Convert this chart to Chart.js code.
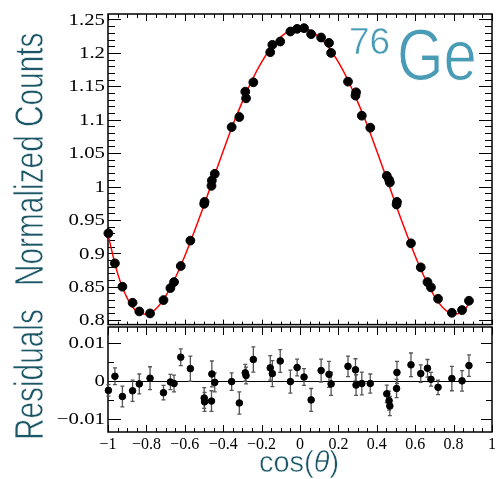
<!DOCTYPE html>
<html>
<head>
<meta charset="utf-8">
<title>76Ge angular correlation</title>
<script src="https://cdn.jsdelivr.net/npm/chart.js@4.4.1/dist/chart.umd.min.js"></script>
<style>
  html, body { margin: 0; padding: 0; background: #fff; }
  #wrap { position: relative; width: 500px; height: 479px; }
  #topBox { position: absolute; left: 0; top: 0; width: 500px; height: 330px; }
  #resBox { position: absolute; left: 0; top: 296px; width: 500px; height: 183px; }
</style>
</head>
<body>
<div id="wrap">
  <div id="topBox"><canvas id="countsChart" width="500" height="330"></canvas></div>
  <div id="resBox"><canvas id="residChart" width="500" height="183"></canvas></div>
</div>
<script>
const cosTheta = [
  -0.998, -0.964, -0.925, -0.872, -0.837, -0.781, -0.711, -0.675, -0.656, -0.621,
  -0.571, -0.499, -0.497, -0.461, -0.459, -0.444, -0.356, -0.316, -0.285, -0.281,
  -0.243, -0.155, -0.144, -0.103, -0.050, -0.015, 0.021, 0.058, 0.110, 0.151,
  0.162, 0.250, 0.289, 0.292, 0.322, 0.366, 0.452, 0.464, 0.468, 0.503,
  0.505, 0.578, 0.629, 0.664, 0.682, 0.719, 0.791, 0.844, 0.880
];
const normCounts = [
  0.930, 0.885, 0.850, 0.826, 0.813, 0.810, 0.830, 0.848, 0.857, 0.881,
  0.919, 0.974, 0.977, 1.001, 1.009, 1.019, 1.089, 1.104, 1.142, 1.132,
  1.156, 1.201, 1.212, 1.217, 1.232, 1.236, 1.237, 1.228, 1.223, 1.215,
  1.200, 1.157, 1.136, 1.141, 1.106, 1.088, 1.016, 1.010, 1.006, 0.973,
  0.977, 0.915, 0.879, 0.857, 0.849, 0.832, 0.811, 0.815, 0.829
];
const residuals = [
  -0.0025, 0.0012, -0.0041, -0.0026, -0.0008, 0.0007, -0.0031, -0.0003, -0.0007, 0.0062,
  0.0032, -0.0045, -0.0055, -0.0053, 0.0018, -0.0004, -0.0002, -0.0058, 0.0021, 0.0014,
  0.0056, 0.0034, 0.0019, 0.0052, -0.0002, 0.0035, 0.0010, -0.0050, 0.0027, 0.0017,
  -0.0008, 0.0038, 0.0029, -0.0011, -0.0007, -0.0007, -0.0034, -0.0052, -0.0066, -0.0020,
  0.0022, 0.0042, 0.0019, 0.0033, 0.0004, -0.0017, 0.0006, 0.0000, 0.0040
];
const residErr = [
  0.0015, 0.0022, 0.0027, 0.0028, 0.0026, 0.0030, 0.0019, 0.0020, 0.0022, 0.0022,
  0.0033, 0.0027, 0.0025, 0.0027, 0.0034, 0.0025, 0.0023, 0.0029, 0.0022, 0.0022,
  0.0033, 0.0032, 0.0034, 0.0030, 0.0030, 0.0022, 0.0022, 0.0030, 0.0030, 0.0034,
  0.0030, 0.0027, 0.0029, 0.0027, 0.0030, 0.0025, 0.0023, 0.0025, 0.0025, 0.0024,
  0.0029, 0.0031, 0.0023, 0.0023, 0.0018, 0.0019, 0.0032, 0.0027, 0.0028
];

// fitted curve, sampled off the red line
const fitX = [
  -1, -0.95, -0.9, -0.85, -0.8, -0.75, -0.7, -0.65, -0.6, -0.55, -0.5, -0.45, -0.4,
  -0.35, -0.3, -0.25, -0.2, -0.15, -0.1, -0.05, 0, 0.05, 0.1, 0.15, 0.2, 0.25, 0.3,
  0.35, 0.4, 0.45, 0.5, 0.55, 0.6, 0.65, 0.7, 0.75, 0.8, 0.85, 0.88
];
const fitY = [
  0.928, 0.870, 0.833, 0.813, 0.809, 0.817, 0.836, 0.863, 0.896, 0.933, 0.972, 1.013, 1.053,
  1.092, 1.127, 1.159, 1.186, 1.208, 1.224, 1.234, 1.237, 1.234, 1.224, 1.208, 1.186, 1.159, 1.127,
  1.092, 1.053, 1.013, 0.972, 0.933, 0.896, 0.863, 0.836, 0.817, 0.809, 0.813, 0.825
];

// axis ticks
const cosTicks = [-1, -0.8, -0.6, -0.4, -0.2, 0, 0.2, 0.4, 0.6, 0.8, 1];
const countTicks = [0.8, 0.85, 0.9, 0.95, 1, 1.05, 1.1, 1.15, 1.2, 1.25];
const residTicks = [-0.01, 0, 0.01];

const titleColor = "#1c5767";
const geColor = "#4a9bb6";

function fmt(v) {
  const s = String(+Math.abs(v).toFixed(3));
  return v < 0 ? "\u2212" + s : s;
}

function minorValues(majors, div) {
  const out = [];
  for (let i = 0; i < majors.length - 1; i++) {
    for (let k = 1; k < div; k++) {
      out.push(majors[i] + ((majors[i + 1] - majors[i]) * k) / div);
    }
  }
  return out;
}

// inward ticks on one side of the frame
function drawTicks(ctx, scale, area, values, side, len) {
  ctx.beginPath();
  values.forEach((v) => {
    const p = Math.round(scale.getPixelForValue(v)) + 0.5;
    if (side === "top") { ctx.moveTo(p, area.top); ctx.lineTo(p, area.top + len); }
    if (side === "bottom") { ctx.moveTo(p, area.bottom); ctx.lineTo(p, area.bottom - len); }
    if (side === "left") { ctx.moveTo(area.left, p); ctx.lineTo(area.left + len, p); }
    if (side === "right") { ctx.moveTo(area.right, p); ctx.lineTo(area.right - len, p); }
  });
  ctx.stroke();
}

function drawYLabels(ctx, scale, area, values) {
  ctx.save();
  ctx.font = "16px 'Liberation Serif', serif";
  ctx.fillStyle = "#000";
  ctx.textAlign = "right";
  ctx.textBaseline = "middle";
  values.forEach((v) => {
    const y = scale.getPixelForValue(v);
    ctx.save();
    ctx.translate(area.left - 3, y + 1);
    ctx.scale(1.3, 1);
    ctx.fillText(fmt(v), 0, 0);
    ctx.restore();
  });
  ctx.restore();
}

// thin the glyphs a little with a white outline (the original uses a light face)
function lightText(ctx, text, x, y, thin) {
  ctx.fillText(text, x, y);
  ctx.save();
  ctx.strokeStyle = "#fff";
  ctx.lineWidth = thin;
  ctx.lineJoin = "round";
  ctx.strokeText(text, x, y);
  ctx.restore();
}

function drawYTitle(ctx, text, x, yStart) {
  ctx.save();
  ctx.font = "40px 'Liberation Sans', Arial, sans-serif";
  ctx.fillStyle = titleColor;
  ctx.textAlign = "left";
  ctx.textBaseline = "alphabetic";
  ctx.translate(x, yStart);
  ctx.rotate(-Math.PI / 2);
  ctx.scale(0.745, 1);
  lightText(ctx, text, 0, 0, 0.7);
  ctx.restore();
}

function drawFrame(ctx, area) {
  ctx.save();
  ctx.strokeStyle = "#000";
  ctx.lineWidth = 1.5;
  ctx.strokeRect(area.left, area.top, area.right - area.left, area.bottom - area.top);
  ctx.restore();
}

const countsFrame = {
  id: "countsFrame",
  beforeDatasetsDraw(chart) {
    const { ctx, chartArea: area, scales } = chart;
    drawFrame(ctx, area);
    ctx.save();
    ctx.strokeStyle = "#000";
    ctx.lineWidth = 1;
    const xMinor = minorValues(cosTicks, 4);
    const yMinor = minorValues(countTicks, 5);
    drawTicks(ctx, scales.x, area, cosTicks, "top", 7);
    drawTicks(ctx, scales.x, area, xMinor, "top", 4);
    drawTicks(ctx, scales.x, area, cosTicks, "bottom", 5);
    drawTicks(ctx, scales.x, area, xMinor, "bottom", 3);
    drawTicks(ctx, scales.y, area, countTicks, "left", 13);
    drawTicks(ctx, scales.y, area, yMinor, "left", 7);
    drawTicks(ctx, scales.y, area, countTicks, "right", 13);
    drawTicks(ctx, scales.y, area, yMinor, "right", 7);
    ctx.restore();
    drawYLabels(ctx, scales.y, area, countTicks);
  },
  afterDraw(chart) {
    const ctx = chart.ctx;
    drawYTitle(ctx, "Normalized Counts", 43, 286);
    // isotope label
    ctx.save();
    ctx.fillStyle = geColor;
    ctx.textBaseline = "alphabetic";
    ctx.font = "37px 'Liberation Sans', Arial, sans-serif";
    lightText(ctx, "76", 349, 54, 0.5);
    ctx.translate(397, 80);
    ctx.scale(0.82, 1);
    ctx.font = "73px 'Liberation Sans', Arial, sans-serif";
    lightText(ctx, "Ge", 0, 0, 1.1);
    ctx.restore();
  },
};

const residFrame = {
  id: "residFrame",
  beforeDatasetsDraw(chart) {
    const { ctx, chartArea: area, scales } = chart;
    drawFrame(ctx, area);
    ctx.save();
    ctx.strokeStyle = "#000";
    ctx.lineWidth = 1;
    const xMinor = minorValues(cosTicks, 4);
    const yMinor = minorValues(residTicks, 2);
    drawTicks(ctx, scales.x, area, cosTicks, "top", 8);
    drawTicks(ctx, scales.x, area, xMinor, "top", 5);
    drawTicks(ctx, scales.x, area, cosTicks, "bottom", 7);
    drawTicks(ctx, scales.x, area, xMinor, "bottom", 4);
    drawTicks(ctx, scales.y, area, residTicks, "left", 13);
    drawTicks(ctx, scales.y, area, yMinor, "left", 6);
    drawTicks(ctx, scales.y, area, residTicks, "right", 11);
    drawTicks(ctx, scales.y, area, yMinor, "right", 6);

    // zero line
    const y0 = Math.round(scales.y.getPixelForValue(0)) + 0.5;
    ctx.beginPath();
    ctx.moveTo(area.left, y0);
    ctx.lineTo(area.right, y0);
    ctx.stroke();

    // error bars
    ctx.strokeStyle = "#555";
    ctx.lineWidth = 1.3;
    cosTheta.forEach((c, i) => {
      const x = scales.x.getPixelForValue(c);
      const yHi = scales.y.getPixelForValue(residuals[i] + residErr[i]);
      const yLo = scales.y.getPixelForValue(residuals[i] - residErr[i]);
      ctx.beginPath();
      ctx.moveTo(x, yHi);
      ctx.lineTo(x, yLo);
      ctx.moveTo(x - 2, yHi);
      ctx.lineTo(x + 2, yHi);
      ctx.moveTo(x - 2, yLo);
      ctx.lineTo(x + 2, yLo);
      ctx.stroke();
    });
    ctx.restore();
    drawYLabels(ctx, scales.y, area, residTicks);
  },
  afterDraw(chart) {
    const ctx = chart.ctx;
    drawYTitle(ctx, "Residuals", 43, 440 - 296);

    // x axis title: cos(θ) with italic theta
    ctx.save();
    ctx.fillStyle = titleColor;
    ctx.textBaseline = "alphabetic";
    const normal = "29px 'Liberation Sans', Arial, sans-serif";
    const italic = "italic 29px 'Liberation Sans', Arial, sans-serif";
    const parts = [["cos(", normal], ["\u03b8", italic], [")", normal]];
    let total = 0;
    parts.forEach(([t, f]) => { ctx.font = f; total += ctx.measureText(t).width; });
    let x = 299 - total / 2;
    const base = 472 - 296;
    parts.forEach(([t, f]) => {
      ctx.font = f;
      lightText(ctx, t, x, base, 0.5);
      x += ctx.measureText(t).width;
    });
    ctx.restore();
  },
};

Chart.defaults.font.family = "'Liberation Serif', serif";

new Chart(document.getElementById("countsChart"), {
  type: "scatter",
  data: {
    datasets: [
      {
        type: "line",
        data: fitX.map((x, i) => ({ x: x, y: fitY[i] })),
        showLine: true,
        borderColor: "#ff0000",
        borderWidth: 1.5,
        pointRadius: 0,
        tension: 0.3,
        order: 2,
      },
      {
        data: cosTheta.map((x, i) => ({ x: x, y: normCounts[i] })),
        backgroundColor: "#000",
        borderColor: "#000",
        pointRadius: 4.4,
        clip: false,
        order: 1,
      },
    ],
  },
  options: {
    responsive: false,
    animation: false,
    events: [],
    layout: { padding: { left: 0, right: 8, top: 14, bottom: 4 } },
    plugins: { legend: { display: false }, tooltip: { enabled: false } },
    scales: {
      x: { type: "linear", min: -1, max: 1, display: false },
      y: {
        type: "linear",
        min: 0.7933,
        max: 1.2582,
        grid: { display: false },
        border: { display: false },
        ticks: { display: false },
        afterFit: (s) => { s.width = 108; },
      },
    },
  },
  plugins: [countsFrame],
});

new Chart(document.getElementById("residChart"), {
  type: "scatter",
  data: {
    datasets: [
      {
        data: cosTheta.map((x, i) => ({ x: x, y: residuals[i] })),
        backgroundColor: "#000",
        borderColor: "#000",
        pointRadius: 3.3,
        clip: false,
      },
    ],
  },
  options: {
    responsive: false,
    animation: false,
    events: [],
    layout: { padding: { left: 0, right: 8, top: 31, bottom: 0 } },
    plugins: { legend: { display: false }, tooltip: { enabled: false } },
    scales: {
      x: {
        type: "linear",
        min: -1,
        max: 1,
        grid: { display: false, drawTicks: false },
        border: { display: false },
        afterBuildTicks: (s) => { s.ticks = cosTicks.map((v) => ({ value: v })); },
        ticks: {
          color: "#000",
          padding: 3,
          maxRotation: 0,
          autoSkip: false,
          font: { size: 16, family: "'Liberation Serif', serif" },
          callback: (v) => fmt(v),
        },
        afterFit: (s) => { s.height = 47; },
      },
      y: {
        type: "linear",
        min: -0.01341,
        max: 0.01412,
        grid: { display: false },
        border: { display: false },
        ticks: { display: false },
        afterFit: (s) => { s.width = 108; },
      },
    },
  },
  plugins: [residFrame],
});
</script>
</body>
</html>
